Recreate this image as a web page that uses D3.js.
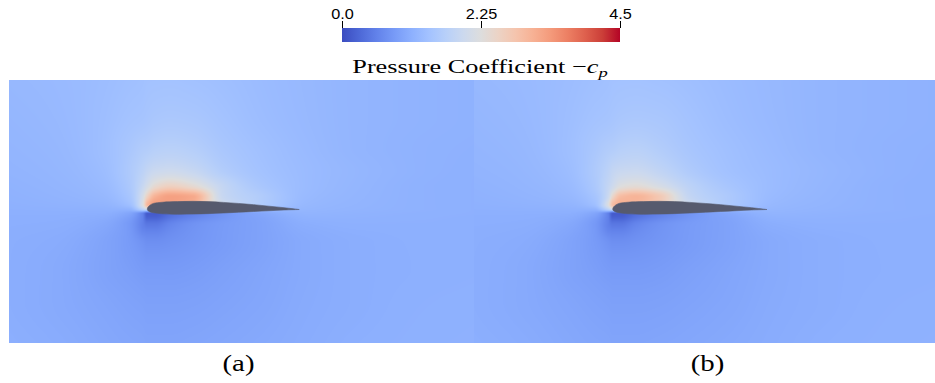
<!DOCTYPE html>
<html>
<head>
<meta charset="utf-8">
<script src="https://cdn.jsdelivr.net/npm/d3@7/dist/d3.min.js"></script>
<style>
  html, body { margin: 0; padding: 0; background: #ffffff; }
  svg { display: block; }
</style>
</head>
<body>
<svg id="fig" width="935" height="383"></svg>
<script>
// ---------------------------------------------------------------------------
// Colour map: cool-to-warm diverging map, stops over [0, 1]
const cmapStops  = [0, 0.0625, 0.125, 0.1875, 0.25, 0.3125, 0.375, 0.4375, 0.5,
                    0.5625, 0.625, 0.6875, 0.75, 0.8125, 0.875, 0.9375, 1];
const cmapColors = ["#3b4cc0", "#4d68d7", "#6282ea", "#779af7", "#8db0fe", "#a3c2ff",
                    "#b8d0f9", "#ccd9ee", "#dddddd", "#ecd3c5", "#f5c4ad", "#f7b194",
                    "#f49a7b", "#ec7f63", "#de604d", "#cb3e38", "#b40426"];

// Colour bar range and ticks for -c_p
const cpRange    = [0, 4.5];
const tickValues = [0, 2.25, 4.5];
const tickLabels = ["0.0", "2.25", "4.5"];

// Panel captions
const panelLabels = ["(a)", "(b)"];

// Visible window of each panel in chord units (leading edge at x = 0)
const viewX = [[-0.91, 2.15], [-0.90, 2.09]];
const viewY = [-0.88, 0.85];

// Airfoil surfaces (x/c, y/c), leading edge to trailing edge
const airfoilUpper = [[0, 0], [0.0015, 0.008], [0.005, 0.015], [0.02, 0.028], [0.04, 0.038],
                      [0.1, 0.046], [0.2, 0.05], [0.3, 0.052], [0.4, 0.05], [0.5, 0.045],
                      [0.6, 0.038], [0.7, 0.03], [0.8, 0.02], [0.9, 0.01], [1, -0.002]];
const airfoilLower = [[0, 0], [0.0015, -0.006], [0.005, -0.01], [0.02, -0.018], [0.04, -0.023],
                      [0.1, -0.03], [0.2, -0.033], [0.3, -0.032], [0.4, -0.029], [0.5, -0.025],
                      [0.6, -0.02], [0.7, -0.015], [0.8, -0.01], [0.9, -0.005], [1, -0.002]];

// Sample grid of the -c_p field (chord units)
const gridX = [-0.95, -0.6, -0.3, -0.12, -0.03, 0.0, 0.05, 0.15, 0.3, 0.5, 0.75, 1.05, 1.4, 1.8, 2.2];
const gridY = [0.9, 0.6, 0.4, 0.25, 0.15, 0.08, 0.03, 0.0, -0.03, -0.1, -0.22, -0.4, -0.6, -0.9];

// -c_p samples, case (a): one row per gridY, one column per gridX
const fieldA = [
  [1.25, 1.28, 1.32, 1.36, 1.38, 1.40, 1.40, 1.40, 1.38, 1.35, 1.30, 1.25, 1.20, 1.17, 1.15],
  [1.22, 1.26, 1.34, 1.42, 1.45, 1.47, 1.50, 1.52, 1.50, 1.42, 1.33, 1.26, 1.20, 1.17, 1.15],
  [1.20, 1.24, 1.35, 1.50, 1.60, 1.62, 1.67, 1.70, 1.65, 1.50, 1.38, 1.28, 1.20, 1.16, 1.14],
  [1.18, 1.22, 1.32, 1.55, 1.75, 1.85, 1.95, 2.00, 1.90, 1.62, 1.42, 1.30, 1.22, 1.16, 1.13],
  [1.16, 1.20, 1.28, 1.52, 1.90, 2.10, 2.40, 2.60, 2.40, 1.85, 1.50, 1.30, 1.21, 1.15, 1.13],
  [1.15, 1.18, 1.24, 1.46, 2.10, 2.60, 3.10, 3.30, 3.20, 1.90, 1.60, 1.28, 1.20, 1.15, 1.13],
  [1.14, 1.16, 1.19, 1.36, 2.20, 3.00, 3.30, 3.30, 3.00, 2.00, 1.60, 1.25, 1.19, 1.15, 1.13],
  [1.13, 1.14, 1.15, 1.18, 1.75, 2.00, 2.00, 2.00, 1.80, 1.50, 1.30, 1.22, 1.18, 1.15, 1.13],
  [1.12, 1.12, 1.11, 0.98, 0.55, 0.15, 0.15, 0.35, 0.55, 0.78, 1.00, 1.18, 1.16, 1.14, 1.13],
  [1.11, 1.10, 1.03, 0.84, 0.55, 0.45, 0.45, 0.60, 0.75, 0.86, 0.95, 1.10, 1.13, 1.13, 1.12],
  [1.10, 1.07, 0.97, 0.86, 0.76, 0.72, 0.72, 0.75, 0.80, 0.87, 0.95, 1.05, 1.10, 1.12, 1.12],
  [1.10, 1.05, 0.96, 0.90, 0.86, 0.85, 0.85, 0.85, 0.87, 0.92, 0.98, 1.05, 1.10, 1.12, 1.13],
  [1.10, 1.05, 0.99, 0.95, 0.93, 0.92, 0.92, 0.92, 0.93, 0.96, 1.00, 1.06, 1.10, 1.13, 1.14],
  [1.12, 1.08, 1.03, 1.00, 0.99, 0.98, 0.98, 0.98, 0.99, 1.01, 1.04, 1.08, 1.12, 1.14, 1.15]
];

// -c_p samples, case (b)
const fieldB = [
  [1.25, 1.28, 1.32, 1.36, 1.38, 1.40, 1.40, 1.40, 1.38, 1.35, 1.30, 1.25, 1.20, 1.17, 1.15],
  [1.22, 1.26, 1.34, 1.42, 1.45, 1.47, 1.50, 1.52, 1.50, 1.42, 1.33, 1.26, 1.20, 1.17, 1.15],
  [1.20, 1.24, 1.35, 1.50, 1.60, 1.62, 1.67, 1.70, 1.62, 1.48, 1.37, 1.28, 1.20, 1.16, 1.14],
  [1.18, 1.22, 1.32, 1.55, 1.75, 1.85, 1.92, 1.95, 1.82, 1.58, 1.40, 1.30, 1.22, 1.16, 1.13],
  [1.16, 1.20, 1.28, 1.52, 1.85, 2.00, 2.25, 2.35, 2.15, 1.75, 1.48, 1.30, 1.21, 1.15, 1.13],
  [1.15, 1.18, 1.24, 1.44, 1.95, 2.50, 2.95, 3.05, 2.75, 1.85, 1.55, 1.28, 1.20, 1.15, 1.13],
  [1.14, 1.16, 1.19, 1.36, 2.20, 2.90, 3.10, 3.00, 2.70, 1.95, 1.55, 1.25, 1.19, 1.15, 1.13],
  [1.13, 1.14, 1.15, 1.18, 1.75, 2.00, 2.00, 2.00, 1.80, 1.50, 1.30, 1.22, 1.18, 1.15, 1.13],
  [1.12, 1.12, 1.11, 0.98, 0.55, 0.15, 0.15, 0.35, 0.55, 0.78, 1.00, 1.18, 1.16, 1.14, 1.13],
  [1.11, 1.10, 1.03, 0.84, 0.55, 0.45, 0.45, 0.60, 0.75, 0.86, 0.95, 1.10, 1.13, 1.13, 1.12],
  [1.10, 1.07, 0.97, 0.86, 0.76, 0.72, 0.72, 0.75, 0.80, 0.87, 0.95, 1.05, 1.10, 1.12, 1.12],
  [1.10, 1.05, 0.96, 0.90, 0.86, 0.85, 0.85, 0.85, 0.87, 0.92, 0.98, 1.05, 1.10, 1.12, 1.13],
  [1.10, 1.05, 0.99, 0.95, 0.93, 0.92, 0.92, 0.92, 0.93, 0.96, 1.00, 1.06, 1.10, 1.13, 1.14],
  [1.12, 1.08, 1.03, 1.00, 0.99, 0.98, 0.98, 0.98, 0.99, 1.01, 1.04, 1.08, 1.12, 1.14, 1.15]
];
const fields = [fieldA, fieldB];

// ---------------------------------------------------------------------------
// Layout
const svg = d3.select("#fig");
const panelCols = [[9, 474], [474, 935]];
const panelRows = [80, 343];
const bar = { x0: 342, x1: 620, y: 28, h: 14 };
const airfoilFill = "#565a6e";

const color = d3.scaleLinear()
  .domain(cmapStops.map(s => cpRange[0] + s * (cpRange[1] - cpRange[0])))
  .range(cmapColors)
  .interpolate(d3.interpolateRgb)
  .clamp(true);

// Lookup table for fast pixel colouring
const LUT_N = 2048;
const lut = d3.range(LUT_N).map(i => d3.rgb(color(cpRange[0] + (i / (LUT_N - 1)) * (cpRange[1] - cpRange[0]))));

// Monotone cubic (Fritsch-Carlson) interpolation on a non-uniform grid
function monotoneSlopes(xs, ys) {
  const n = xs.length, d = [], m = new Array(n);
  for (let i = 0; i < n - 1; i++) d.push((ys[i + 1] - ys[i]) / (xs[i + 1] - xs[i]));
  m[0] = d[0]; m[n - 1] = d[n - 2];
  for (let i = 1; i < n - 1; i++) {
    if (d[i - 1] * d[i] <= 0) { m[i] = 0; continue; }
    const h0 = xs[i] - xs[i - 1], h1 = xs[i + 1] - xs[i];
    const w1 = 2 * h1 + h0, w2 = h1 + 2 * h0;
    m[i] = (w1 + w2) / (w1 / d[i - 1] + w2 / d[i]);
  }
  return m;
}
function hermite(xs, ys, ms, x) {
  const n = xs.length;
  if (x <= xs[0]) return ys[0];
  if (x >= xs[n - 1]) return ys[n - 1];
  let k = d3.bisectRight(xs, x) - 1;
  if (k > n - 2) k = n - 2;
  const h = xs[k + 1] - xs[k], t = (x - xs[k]) / h;
  const t2 = t * t, t3 = t2 * t;
  return (2 * t3 - 3 * t2 + 1) * ys[k] + (t3 - 2 * t2 + t) * h * ms[k]
       + (-2 * t3 + 3 * t2) * ys[k + 1] + (t3 - t2) * h * ms[k + 1];
}

// Grid rows ordered bottom-to-top for ascending interpolation in y
const gridYAsc = gridY.slice().reverse();

function renderField(field, xScale, yScale, px0, px1, py0, py1) {
  const w = px1 - px0, h = py1 - py0;
  const rows = field.slice().reverse();
  const rowSlopes = rows.map(r => monotoneSlopes(gridX, r));
  const canvas = document.createElement("canvas");
  canvas.width = w; canvas.height = h;
  const ctx = canvas.getContext("2d");
  const img = ctx.createImageData(w, h);
  const ySamples = d3.range(h).map(j => yScale.invert(py0 + j + 0.5));
  for (let i = 0; i < w; i++) {
    const x = xScale.invert(px0 + i + 0.5);
    const col = rows.map((r, k) => hermite(gridX, r, rowSlopes[k], x));
    const colSlopes = monotoneSlopes(gridYAsc, col);
    for (let j = 0; j < h; j++) {
      const v = hermite(gridYAsc, col, colSlopes, ySamples[j]);
      let li = Math.round((v - cpRange[0]) / (cpRange[1] - cpRange[0]) * (LUT_N - 1));
      li = Math.max(0, Math.min(LUT_N - 1, li));
      const c = lut[li], p = (j * w + i) * 4;
      img.data[p] = c.r; img.data[p + 1] = c.g; img.data[p + 2] = c.b; img.data[p + 3] = 255;
    }
  }
  ctx.putImageData(img, 0, 0);
  return canvas.toDataURL();
}

// Closed airfoil outline: trailing edge -> upper -> leading edge -> lower -> trailing edge
const airfoilLoop = airfoilUpper.slice().reverse().concat(airfoilLower.slice(1));

panelLabels.forEach((label, idx) => {
  const [px0, px1] = panelCols[idx];
  const [py0, py1] = panelRows;
  const xScale = d3.scaleLinear().domain(viewX[idx]).range([px0, px1]);
  const yScale = d3.scaleLinear().domain(viewY).range([py1, py0]);

  const g = svg.append("g").attr("class", "panel");
  g.append("image")
    .attr("x", px0).attr("y", py0)
    .attr("width", px1 - px0).attr("height", py1 - py0)
    .attr("preserveAspectRatio", "none")
    .attr("href", renderField(fields[idx], xScale, yScale, px0, px1, py0, py1));

  const line = d3.line()
    .x(d => xScale(d[0]))
    .y(d => yScale(d[1]))
    .curve(d3.curveCatmullRom.alpha(0.5));
  g.append("path")
    .attr("d", line(airfoilLoop) + "Z")
    .attr("fill", airfoilFill)
    .attr("stroke", airfoilFill)
    .attr("stroke-width", 0.6);

  const t = g.append("text")
    .attr("x", (px0 + px1) / 2 + (idx === 0 ? -3 : 3))
    .attr("y", 371)
    .attr("text-anchor", "middle")
    .attr("font-family", "'Liberation Serif', 'DejaVu Serif', serif")
    .attr("font-size", 24)
    .attr("fill", "#000")
    .text(label);
  const len = t.node().getComputedTextLength();
  t.attr("textLength", len * 1.2).attr("lengthAdjust", "spacingAndGlyphs");
});

// ---------------------------------------------------------------------------
// Colour bar
const defs = svg.append("defs");
const grad = defs.append("linearGradient").attr("id", "cbar")
  .attr("x1", "0%").attr("x2", "100%").attr("y1", "0%").attr("y2", "0%");
grad.selectAll("stop").data(cmapStops).join("stop")
  .attr("offset", d => (d * 100) + "%")
  .attr("stop-color", (d, i) => cmapColors[i]);

const barScale = d3.scaleLinear().domain(cpRange).range([bar.x0, bar.x1]);
svg.append("rect")
  .attr("x", barScale(cpRange[0])).attr("y", bar.y)
  .attr("width", barScale(cpRange[1]) - barScale(cpRange[0]))
  .attr("height", bar.h)
  .attr("fill", "url(#cbar)");

const axis = d3.axisTop(barScale)
  .tickValues(tickValues)
  .tickFormat((d, i) => tickLabels[i])
  .tickSize(7)
  .tickPadding(2);
const axG = svg.append("g").attr("transform", `translate(0,${bar.y})`).call(axis);
axG.select(".domain").remove();
axG.selectAll(".tick line").attr("stroke", "#000").attr("stroke-width", 1);
axG.selectAll(".tick text")
  .attr("font-family", "'Liberation Sans', Arial, sans-serif")
  .attr("font-size", 14.5)
  .attr("fill", "#000")
  .each(function () {
    const len = this.getComputedTextLength();
    d3.select(this).attr("textLength", len * 1.12).attr("lengthAdjust", "spacingAndGlyphs");
  });

// Colour bar title: Pressure Coefficient -c_p
const title = svg.append("text")
  .attr("text-anchor", "middle")
  .attr("font-family", "'Liberation Serif', 'DejaVu Serif', serif")
  .attr("font-size", 19)
  .attr("fill", "#000");
title.append("tspan").text("Pressure Coefficient \u2212");
title.append("tspan").attr("font-style", "italic").text("c");
title.append("tspan").attr("font-style", "italic").attr("font-size", 13.5).attr("dy", 4).text("p");
const tb = title.node().getBBox();
const titleWidth = 256, titleCx = 480, titleBase = 73;
title.attr("transform", `translate(${titleCx},${titleBase}) scale(${titleWidth / tb.width},1)`);
</script>
</body>
</html>
